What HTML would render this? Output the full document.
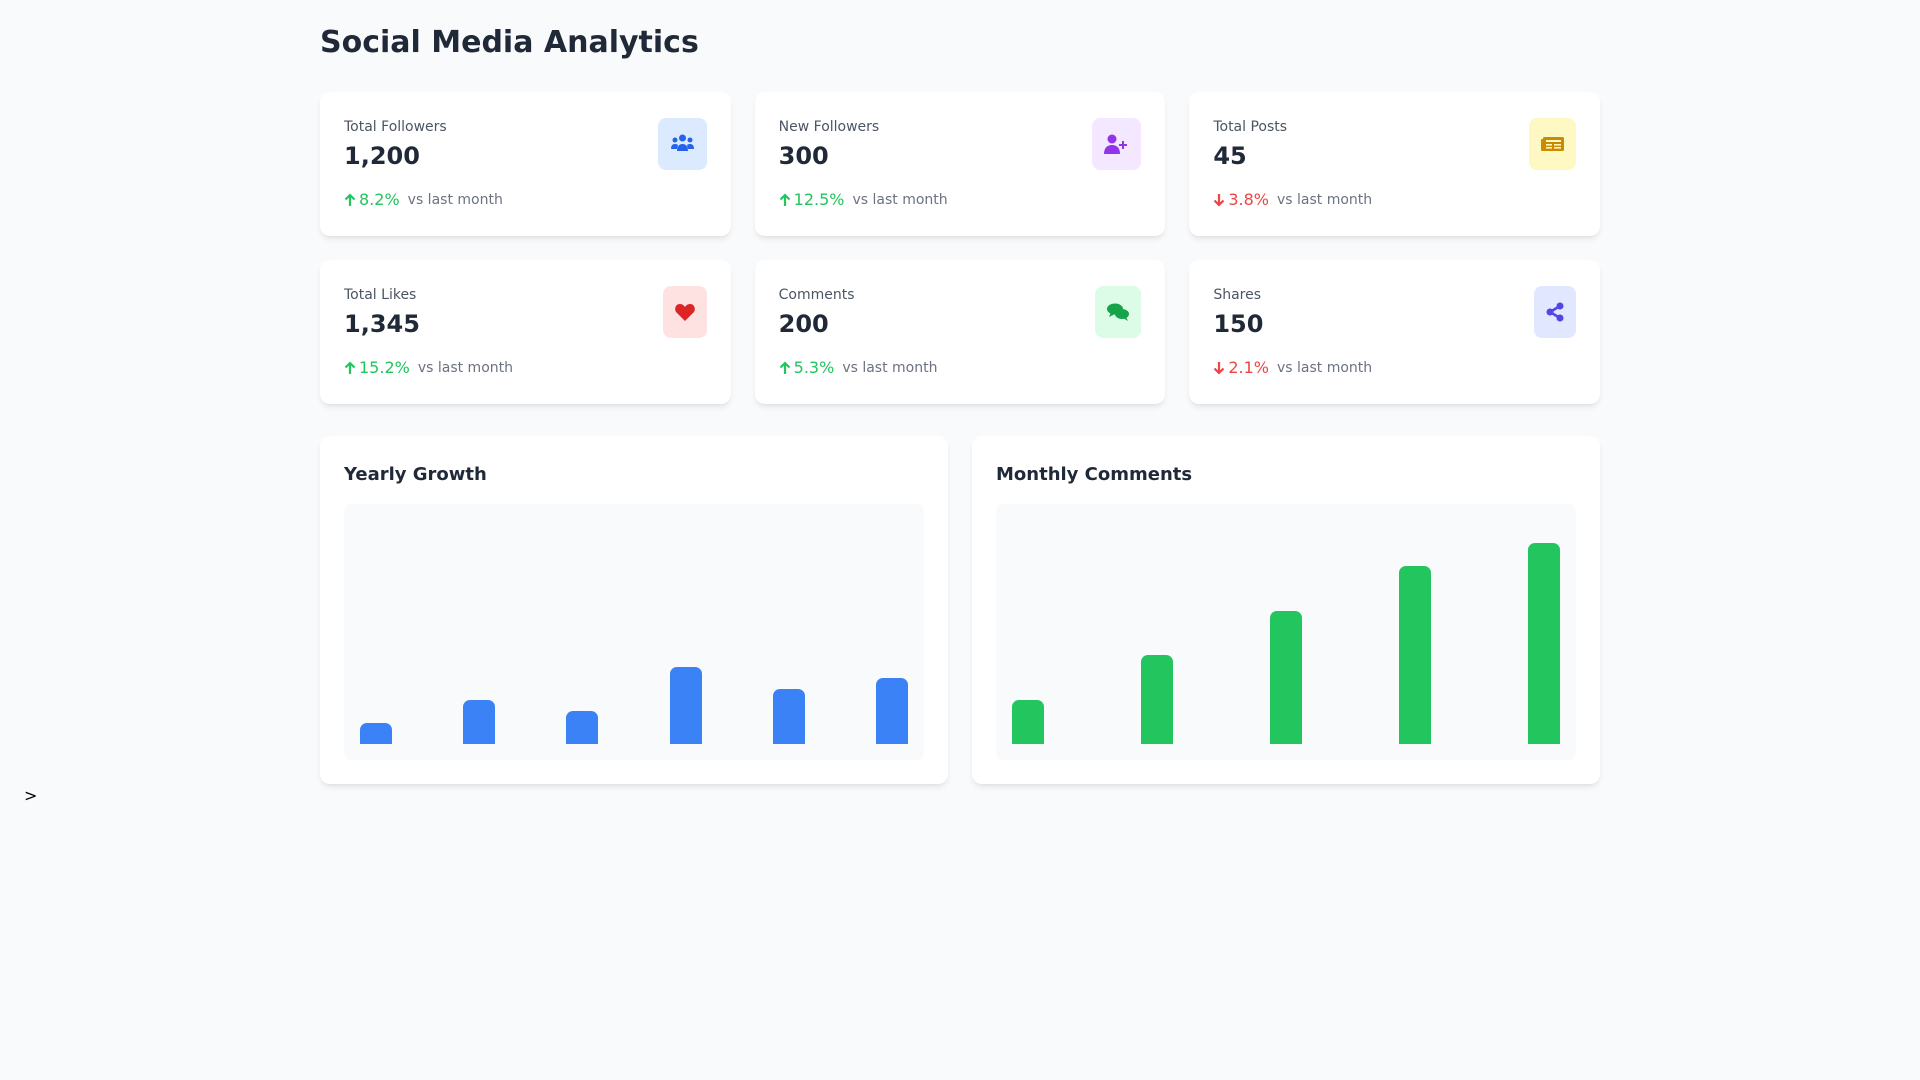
<!DOCTYPE html>
<html><head><meta charset="utf-8"><style>
*{box-sizing:border-box;margin:0;padding:0}
body{width:1920px;height:1080px;background:#f9fafb;font-family:"DejaVu Sans","Liberation Sans",sans-serif;color:#1f2937;position:relative;overflow:hidden}
.wrap{position:absolute;left:320px;top:0;width:1280px}
h1{position:absolute;top:22px;left:0;font-size:30px;line-height:42px;font-weight:bold;color:#1f2937}
.grid{position:absolute;top:92px;left:0;width:1280px;display:grid;grid-template-columns:repeat(3,1fr);gap:24px}
.card{background:#fff;border-radius:10px;box-shadow:0 4px 6px -1px rgba(0,0,0,.08),0 2px 4px -2px rgba(0,0,0,.06);padding:25px 24px 23px;height:144px;position:relative}
.lbl{font-size:14px;line-height:20px;color:#4b5563}
.val{font-size:24px;line-height:36px;font-weight:bold;color:#1f2937;margin-top:1px}
.chg{margin-top:16px;font-size:14px;line-height:20px;color:#6b7280;display:flex;align-items:center}
.chg .p{margin-right:8px;display:flex;align-items:center;font-size:16px}
.chg svg{margin-right:3px}
.up{color:#22c55e}.dn{color:#ef4444}
.ico{position:absolute;right:24px;top:26px;padding:12px;border-radius:8px;height:52px;display:flex;align-items:center;justify-content:center}
.charts{position:absolute;top:436px;left:0;width:1280px;display:grid;grid-template-columns:1fr 1fr;gap:24px}
.cc{background:#fff;border-radius:10px;box-shadow:0 4px 6px -1px rgba(0,0,0,.08),0 2px 4px -2px rgba(0,0,0,.06);padding:24px;height:348px}
.cc h2{font-size:18px;line-height:28px;font-weight:bold;color:#1f2937;margin-top:1px}
.area{margin-top:15px;height:256px;background:#f9fafb;border-radius:8px;padding:16px;display:flex;justify-content:space-between;align-items:flex-end}
.bar{width:32px;border-radius:7px 7px 0 0}
.b{background:#3b82f6}.g{background:#22c55e}
</style></head><body>
<div class="wrap">
<h1>Social Media Analytics</h1>
<div class="grid">
<div class="card"><div class="lbl">Total Followers</div><div class="val">1,200</div><div class="chg"><span class="p up"><svg width="12" height="14" viewBox="0 0 12 14"><path d="M6 13V2M1.5 6.5L6 2l4.5 4.5" stroke="#22c55e" stroke-width="2.2" fill="none"/></svg>8.2%</span>vs last month</div>
<div class="ico" style="background:#dbeafe;width:49px"><svg width="25" height="20" viewBox="0 0 25 20"><g fill="#2563eb"><circle cx="12.5" cy="4" r="3.5"/><circle cx="5" cy="6" r="2.5"/><circle cx="20" cy="6" r="2.5"/><path d="M7 17c0-5 2.5-7 5.5-7s5.5 2 5.5 7z"/><path d="M1 15c0-4 2-5 4-5s3 1 3 1l-1 4z"/><path d="M24 15c0-4-2-5-4-5s-3 1-3 1l1 4z"/></g></svg></div></div>
<div class="card"><div class="lbl">New Followers</div><div class="val">300</div><div class="chg"><span class="p up"><svg width="12" height="14" viewBox="0 0 12 14"><path d="M6 13V2M1.5 6.5L6 2l4.5 4.5" stroke="#22c55e" stroke-width="2.2" fill="none"/></svg>12.5%</span>vs last month</div>
<div class="ico" style="background:#f3e8ff;width:49px"><svg width="25" height="20" viewBox="0 0 25 20"><g fill="#9333ea"><circle cx="8" cy="5" r="4.5"/><path d="M0 20c0-6 3-9 8-9s8 3 8 9z"/><rect x="18" y="7" width="2" height="8"/><rect x="15" y="10" width="8" height="2"/></g></svg></div></div>
<div class="card"><div class="lbl">Total Posts</div><div class="val">45</div><div class="chg"><span class="p dn"><svg width="12" height="14" viewBox="0 0 12 14"><path d="M6 1v11M1.5 7.5L6 12l4.5-4.5" stroke="#ef4444" stroke-width="2.2" fill="none"/></svg>3.8%</span>vs last month</div>
<div class="ico" style="background:#fef9c3;width:47px"><svg width="23" height="16" viewBox="0 0 23 16"><rect x="2" y="1" width="21" height="14" rx="1.5" fill="#ca8a04"/><rect x="0" y="3" width="3" height="12" rx="1" fill="#ca8a04"/><g fill="#fef9c3"><rect x="5" y="4" width="15" height="2"/><rect x="5" y="8" width="6" height="1.6"/><rect x="13" y="8" width="7" height="1.6"/><rect x="5" y="11" width="6" height="1.6"/><rect x="13" y="11" width="7" height="1.6"/></g></svg></div></div>
<div class="card"><div class="lbl">Total Likes</div><div class="val">1,345</div><div class="chg"><span class="p up"><svg width="12" height="14" viewBox="0 0 12 14"><path d="M6 13V2M1.5 6.5L6 2l4.5 4.5" stroke="#22c55e" stroke-width="2.2" fill="none"/></svg>15.2%</span>vs last month</div>
<div class="ico" style="background:#fee2e2;width:44px"><svg width="20" height="18" viewBox="0 0 20 18"><path d="M10 18L1.5 9.5C-1 7 0 1 5 1c2.5 0 4 1.5 5 3 1-1.5 2.5-3 5-3 5 0 6 6 3.5 8.5z" fill="#dc2626"/></svg></div></div>
<div class="card"><div class="lbl">Comments</div><div class="val">200</div><div class="chg"><span class="p up"><svg width="12" height="14" viewBox="0 0 12 14"><path d="M6 13V2M1.5 6.5L6 2l4.5 4.5" stroke="#22c55e" stroke-width="2.2" fill="none"/></svg>5.3%</span>vs last month</div>
<div class="ico" style="background:#dcfce7;width:46px"><svg width="22" height="18" viewBox="0 0 22 18"><g fill="#16a34a"><ellipse cx="8" cy="6" rx="8" ry="5.5"/><path d="M2 14l2-5 4 2z"/><ellipse cx="15" cy="11" rx="7" ry="5"/><path d="M21 18l-2-4-3 1z"/></g></svg></div></div>
<div class="card"><div class="lbl">Shares</div><div class="val">150</div><div class="chg"><span class="p dn"><svg width="12" height="14" viewBox="0 0 12 14"><path d="M6 1v11M1.5 7.5L6 12l4.5-4.5" stroke="#ef4444" stroke-width="2.2" fill="none"/></svg>2.1%</span>vs last month</div>
<div class="ico" style="background:#e0e7ff;width:42px"><svg width="18" height="20" viewBox="0 0 18 20"><g fill="#4f46e5" stroke="#4f46e5" stroke-width="2.5"><line x1="4" y1="10" x2="14" y2="4"/><line x1="4" y1="10" x2="14" y2="16"/></g><g fill="#4f46e5"><circle cx="14" cy="4" r="3.5"/><circle cx="4" cy="10" r="3.5"/><circle cx="14" cy="16" r="3.5"/></g></svg></div></div>
</div>
<div class="charts">
<div class="cc"><h2>Yearly Growth</h2><div class="area">
<div class="bar b" style="height:21px"></div><div class="bar b" style="height:44px"></div><div class="bar b" style="height:33px"></div><div class="bar b" style="height:77px"></div><div class="bar b" style="height:55px"></div><div class="bar b" style="height:66px"></div>
</div></div>
<div class="cc"><h2>Monthly Comments</h2><div class="area">
<div class="bar g" style="height:44px"></div><div class="bar g" style="height:89px"></div><div class="bar g" style="height:133px"></div><div class="bar g" style="height:178px"></div><div class="bar g" style="height:201px"></div>
</div></div>
</div>
</div>
<div style="position:absolute;left:24px;top:785px;font-size:16px;line-height:22px;color:#000">&gt;</div>
</body></html>
